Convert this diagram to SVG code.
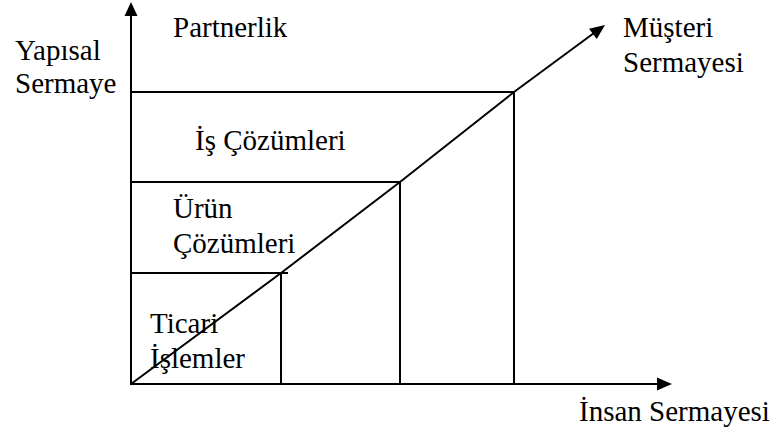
<svg xmlns="http://www.w3.org/2000/svg" width="780" height="432" viewBox="0 0 780 432">
<style>
text{font-family:'Liberation Serif','Times New Roman',serif;font-size:29px;fill:#000}
.ln{stroke:#000;stroke-width:2;fill:none}
.ah{fill:#000;stroke:none}
</style>
<rect width="780" height="432" fill="#fff"/>
<g id="connectors">
<line class="ln" x1="131" y1="385" x2="131" y2="15"/>
<polygon class="ah" points="131,2 124.5,16 137.5,16"/>
<line class="ln" x1="130" y1="384" x2="659" y2="384"/>
<polygon class="ah" points="672,384 657,377.5 657,390.5"/>
<polyline class="ln" points="131,384 281,273 400,182 514,92 594,33"/>
<polygon class="ah" points="605,25 589,28.7 596.8,39.1"/>
</g>
<g id="partnerlik"><text x="173" y="37">Partnerlik</text></g>
<g id="yapisal-sermaye"><text x="15" y="60">Yapısal</text><text x="15" y="93">Sermaye</text></g>
<g id="musteri-sermayesi"><text x="623" y="37">Müşteri</text><text x="623" y="72">Sermayesi</text></g>
<g id="insan-sermayesi"><text x="579" y="421">İnsan Sermayesi</text></g>
<g id="is-cozumleri">
<line class="ln" x1="131" y1="92" x2="515" y2="92"/>
<line class="ln" x1="514" y1="92" x2="514" y2="384"/>
<text x="195" y="150">İş Çözümleri</text>
</g>
<g id="urun-cozumleri">
<line class="ln" x1="131" y1="182" x2="401" y2="182"/>
<line class="ln" x1="400" y1="182" x2="400" y2="384"/>
<text x="173" y="218">Ürün</text><text x="173" y="253">Çözümleri</text>
</g>
<g id="ticari-islemler">
<line class="ln" x1="131" y1="273" x2="288" y2="273"/>
<line class="ln" x1="281" y1="273" x2="281" y2="384"/>
<text x="150" y="333">Ticari</text><text x="150" y="368">İşlemler</text>
</g>
</svg>
